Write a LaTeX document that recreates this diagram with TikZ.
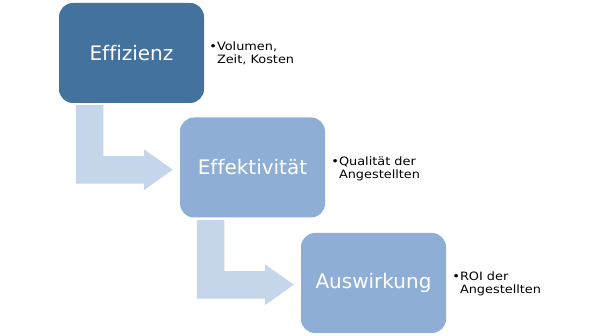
\documentclass[tikz,border=0pt]{standalone}
\usepackage{fontspec}
\setmainfont[Ligatures=NoCommon]{DejaVu Sans}
\newfontfamily\notefont[Ligatures=NoCommon,FakeStretch=1.12]{DejaVu Sans}
\usetikzlibrary{calc}
\definecolor{boxdark}{HTML}{44729E}
\definecolor{boxlight}{HTML}{8FAED6}
\definecolor{arrowfill}{HTML}{C5D5EA}
\begin{document}
\begin{tikzpicture}[x=1pt,y=-1pt,
  box/.style={rounded corners=14pt, minimum width=145pt, minimum height=100pt,
    inner sep=0pt, text=white, font=\fontsize{20}{24}\selectfont},
  darkbox/.style={box, fill=boxdark},
  lightbox/.style={box, fill=boxlight},
  note/.style={anchor=west, align=left, inner sep=0pt, text=black,
    font=\notefont\fontsize{11.5}{13.5}\selectfont},
  bentarr/.pic={\fill[arrowfill] (0,0) -- (27.5,0) -- (27.5,51) -- (68,51)
    -- (68,44) -- (97,64.5) -- (68,85) -- (68,78.5) -- (0,78.5) -- cycle;}]
\useasboundingbox (0,0) rectangle (610,336);
\node[darkbox]  (b1) at (131.5,53)    {Effizienz};
\node[lightbox] (b2) at (252.5,167.5) {Effektivität};
\node[lightbox] (b3) at (373.5,283)   {Auswirkung};
\pic at ($(b1.south west)+(17,2)$) {bentarr};
\pic at ($(b2.south west)+(17,2.5)$) {bentarr};
\node[note] (n1) at ($(b1.east)+(5,0.5)$) {•Volumen,\\\phantom{•}Zeit, Kosten};
\node[note] (n2) at ($(b2.east)+(6,1.5)$) {•Qualität der\\\phantom{•}Angestellten};
\node[note] (n3) at ($(b3.east)+(6,1)$) {•ROI der\\\phantom{•}Angestellten};
\end{tikzpicture}
\end{document}
